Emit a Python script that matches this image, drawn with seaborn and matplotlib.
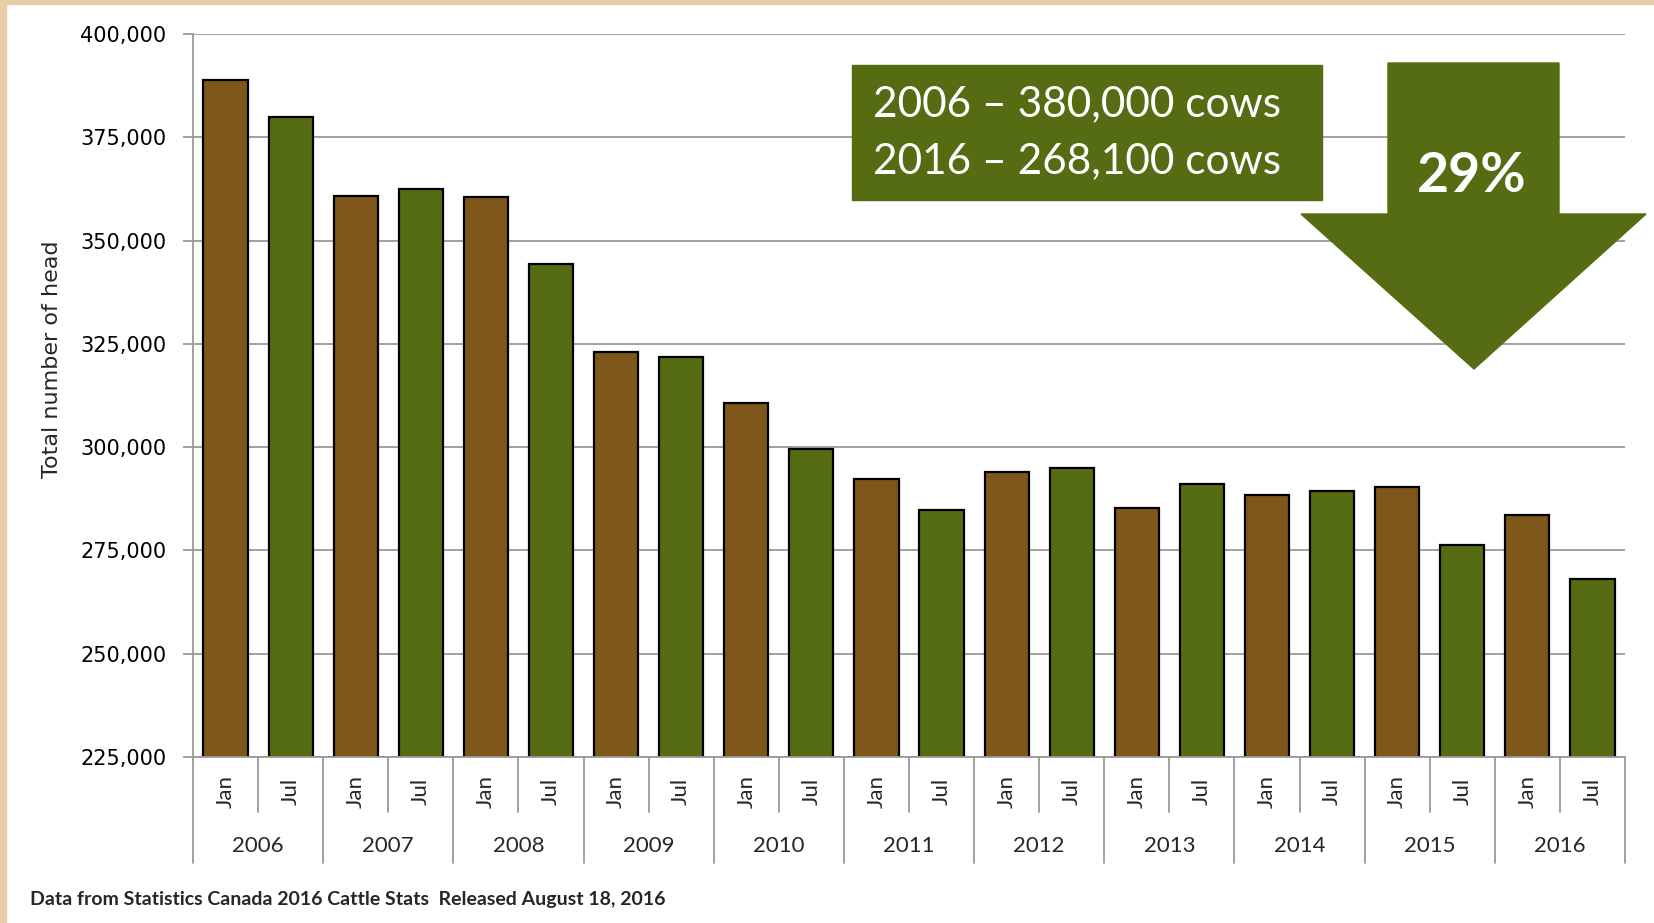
import matplotlib
matplotlib.use("Agg")
import matplotlib.pyplot as plt
import matplotlib.ticker as mticker
from matplotlib.patches import Rectangle, Polygon
import seaborn as sns
import pandas as pd

years = ["2006", "2007", "2008", "2009", "2010", "2011",
         "2012", "2013", "2014", "2015", "2016"]
months = ["Jan", "Jul"]
head_counts = [388800, 380000, 360700, 362500, 360500, 344400,
               323000, 321700, 310700, 299500, 292300, 284700,
               294100, 294900, 285200, 291100, 288300, 289300,
               290300, 276300, 283500, 268100]
y_ticks = [225000, 250000, 275000, 300000, 325000, 350000, 375000, 400000]
box_lines = ["2006 \u2013 380,000 cows", "2016 \u2013 268,100 cows"]
drop_label = "29%"
footer = "Data from Statistics Canada 2016 Cattle Stats  Released August 18, 2016"

BROWN = "#7F571B"
GREEN = "#566C12"
BEIGE = "#E6CFA6"

periods = [f"{y} {m}" for y in years for m in months]
month_col = [m for y in years for m in months]
df = pd.DataFrame({"period": periods, "month": month_col, "head": head_counts})

sns.set_style("white")
plt.rcParams["font.family"] = ["DejaVu Sans"]

W, H = 1654, 923
fig = plt.figure(figsize=(W / 100, H / 100), dpi=100, facecolor="white")

# textured border strips (left and top)
fig.patches.append(Rectangle((0, 0), 6 / W, 1, transform=fig.transFigure,
                             color=BEIGE, zorder=0))
fig.patches.append(Rectangle((0, 1 - 4 / H), 1, 4 / H, transform=fig.transFigure,
                             color=BEIGE, zorder=0))

ax = fig.add_axes([193 / W, 1 - 757 / H, (1625 - 193) / W, (757 - 34) / H])
ax.set_facecolor("white")

sns.barplot(data=df, x="period", y="head", hue="month",
            palette={"Jan": BROWN, "Jul": GREEN}, dodge=False, width=0.68,
            saturation=1, edgecolor="black", linewidth=1.6, legend=False,
            ax=ax, zorder=3)

ax.set_ylim(225000, 400000)
ax.set_xlim(-0.5, len(periods) - 0.5)
ax.set_yticks(y_ticks)
ax.yaxis.set_major_formatter(mticker.FuncFormatter(lambda v, p: f"{int(v):,}"))
ax.yaxis.grid(True, color="#9A9A9A", linewidth=1.3, zorder=0)
ax.set_axisbelow(True)
for s in ["top", "right", "bottom"]:
    ax.spines[s].set_visible(False)
ax.spines["left"].set_color("#9A9A9A")
ax.spines["left"].set_linewidth(1.3)
ax.tick_params(axis="y", which="major", length=7, width=1.3, color="#9A9A9A",
               direction="out", pad=12, labelsize=15, labelcolor="black", left=True)
ax.set_xticks([])
ax.set_xlabel("")
ax.set_ylabel("Total number of head", fontsize=16)
ax.yaxis.set_label_coords(-(193 - 62) / (1625 - 193), 0.55)

# multi-level category axis
axh = 757 - 34
trans = matplotlib.transforms.blended_transform_factory(ax.transData, ax.transAxes)
ax.plot([-0.5, len(periods) - 0.5], [0, 0], transform=trans, color="#9A9A9A",
        lw=1.3, clip_on=False, zorder=4)
for i in range(len(periods) + 1):
    x = i - 0.5
    end = -106 / axh if i % 2 == 0 else -55 / axh
    ax.plot([x, x], [0, end], transform=trans, color="#9A9A9A", lw=1.3,
            clip_on=False)
for i, p in enumerate(periods):
    ax.text(i, -34 / axh, month_col[i], transform=trans, rotation=90,
            ha="center", va="center", fontsize=16, family=["Lato", "DejaVu Sans"])
for j, y in enumerate(years):
    ax.text(2 * j + 0.5, -89 / axh, y, transform=trans, ha="center",
            va="center", fontsize=16, family=["Lato", "DejaVu Sans"])

# annotation box
fig.patches.append(Rectangle((852 / W, 1 - 200 / H), 470 / W, 135 / H,
                             transform=fig.transFigure, color=GREEN, zorder=5))
fig.text(873 / W, 1 - 104 / H, box_lines[0], color="white", fontsize=30.5,
         ha="left", va="center", family=["Lato", "DejaVu Sans"], zorder=6)
fig.text(873 / W, 1 - 161 / H, box_lines[1], color="white", fontsize=30.5,
         ha="left", va="center", family=["Lato", "DejaVu Sans"], zorder=6)

# down arrow
pts = [(1388, 63), (1559, 63), (1559, 214), (1646, 214), (1474, 369),
       (1301, 214), (1388, 214)]
fig.patches.append(Polygon([(x / W, 1 - y / H) for x, y in pts], closed=True,
                           transform=fig.transFigure, color=GREEN, zorder=5))
fig.text(1472 / W, 1 - 176 / H, drop_label, color="white", fontsize=40,
         fontweight="bold", ha="center", va="center",
         family=["Lato", "DejaVu Sans"], zorder=6)

fig.text(30 / W, 1 - 899 / H, footer, fontsize=14, fontweight="bold",
         ha="left", va="center", family=["Lato", "DejaVu Sans"])

fig.savefig("out.png", dpi=100, facecolor="white")
